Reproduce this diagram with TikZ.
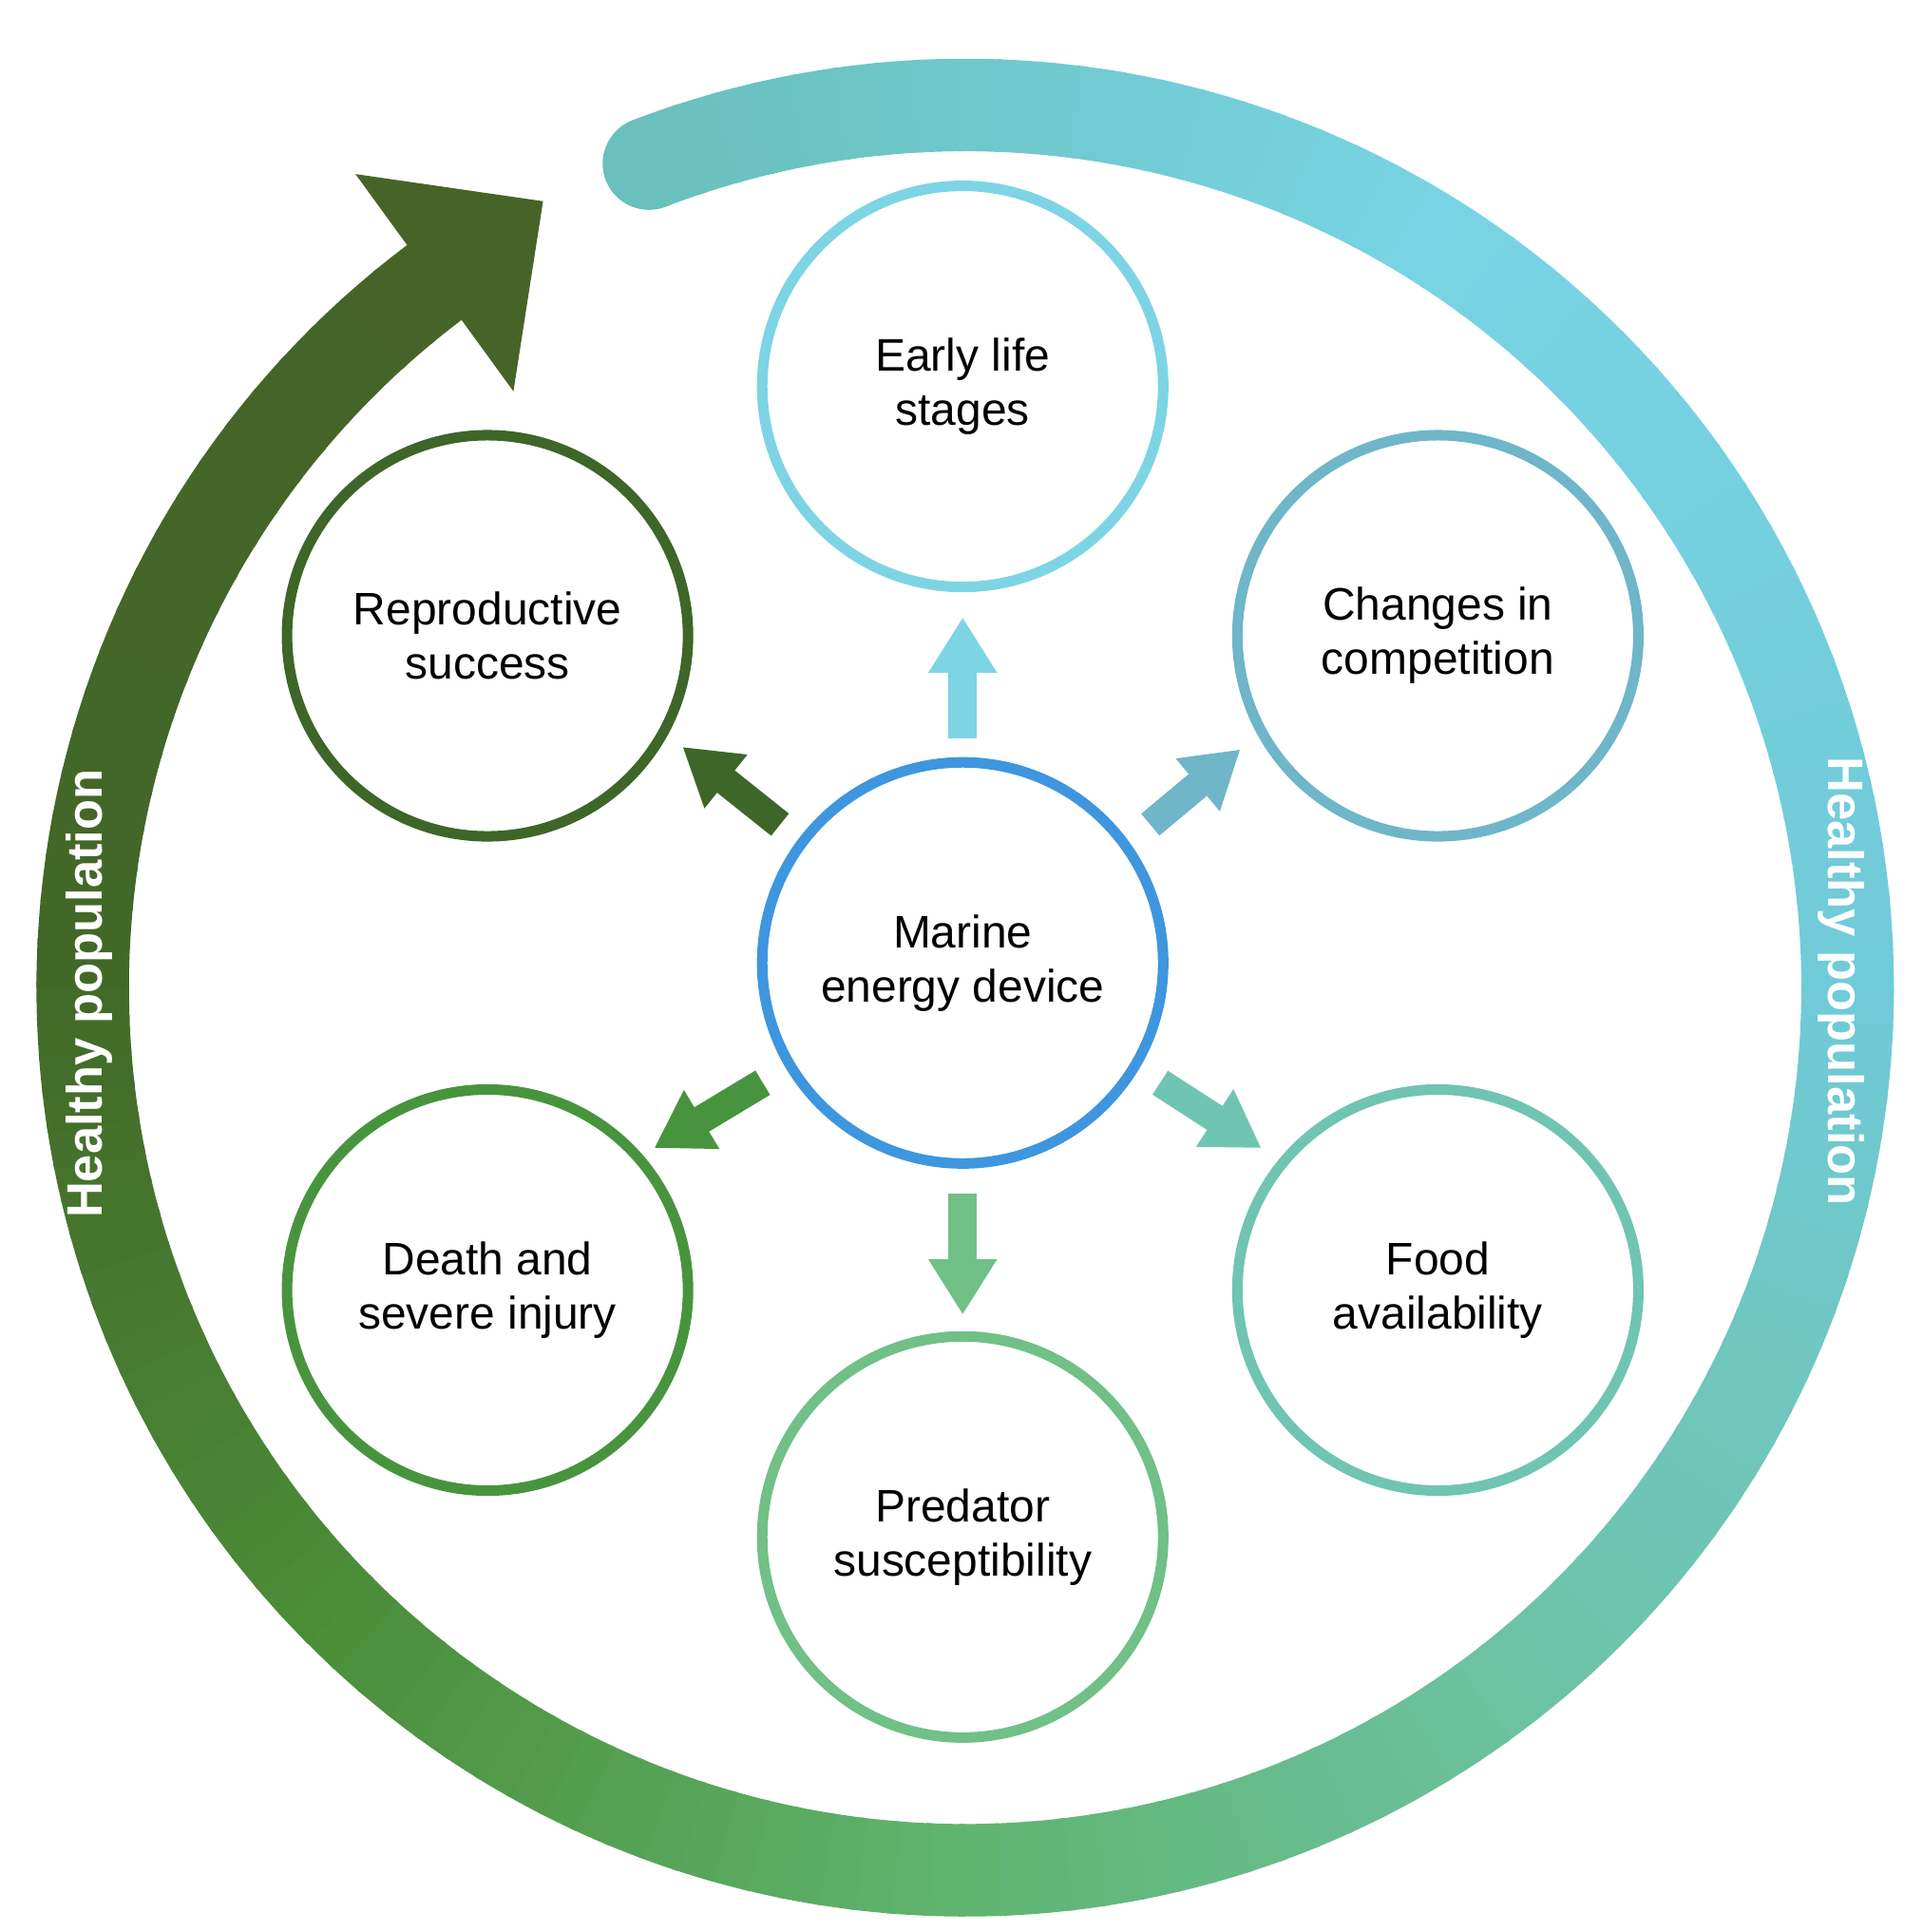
\documentclass[tikz,border=0pt]{standalone}
\usepackage{fontspec}
\setmainfont{Liberation Sans}
\usetikzlibrary{arrows.meta}
\definecolor{cE}{RGB}{125,212,228}
\definecolor{cC}{RGB}{110,182,200}
\definecolor{cF}{RGB}{112,196,178}
\definecolor{cP}{RGB}{112,192,135}
\definecolor{cD}{RGB}{72,148,62}
\definecolor{cR}{RGB}{62,102,40}
\definecolor{cM}{RGB}{62,150,222}
\definecolor{g0}{RGB}{105,192,188}
\definecolor{g1}{RGB}{120,212,228}
\definecolor{g2}{RGB}{112,202,215}
\definecolor{g3}{RGB}{110,196,170}
\definecolor{g4}{RGB}{95,180,110}
\definecolor{g5}{RGB}{75,140,55}
\definecolor{g6}{RGB}{66,104,40}
\definecolor{g7}{RGB}{70,100,40}
\begin{document}
\begin{tikzpicture}[x=0.02cm,y=-0.02cm,
  circ/.style={circle,draw,line width=0.17cm,minimum size=6.5cm,align=center,
    font=\fontsize{21}{25}\selectfont,fill=white},
  barrow/.style={line width=0.46cm,-{Triangle[length=0.9cm,width=1.05cm]}},
  ring/.style={line width=1.5cm},
  hp/.style={text=white,font=\bfseries\fontsize{23}{27}\selectfont}]
\useasboundingbox (0,0) rectangle (1558,1565);
\coordinate (C) at (782,800);
% gradient ring (tikz angles = -visual angles)
\foreach \a/\b/\ca/\cb in {-111/-60/g0/g1,-60/0/g1/g2,0/45/g2/g3,45/90/g3/g4,90/135/g4/g5,135/180/g5/g6,180/233/g6/g7}{
  \foreach \k in {0,...,19}{
    \pgfmathsetmacro\s{\a+(\b-\a)*\k/20}
    \pgfmathsetmacro\e{\a+(\b-\a)*(\k+1)/20+0.4}
    \pgfmathtruncatemacro\p{\k*5}
    \draw[ring,draw=\cb!\p!\ca] (C) ++(\s:715) arc[start angle=\s,end angle=\e,radius=715];
  }
}
\fill[g0] (C) ++(-111:715) circle[radius=37.5];
\fill[g7] (288,141) -- (440,163) -- (416,317) -- cycle;
\node[hp,rotate=90] (hl) at (72,805) {Healthy population};
\node[hp,rotate=-90] (hr) at (1492,795) {Healthy population};
% circles
\node[circ,draw=cM] (m) at (780,780) {Marine\\energy device};
\node[circ,draw=cE] (e) at (780,313) {Early life\\stages};
\node[circ,draw=cC] (c) at (1165,515) {Changes in\\competition};
\node[circ,draw=cF] (f) at (1165,1045) {Food\\availability};
\node[circ,draw=cP] (p) at (780,1245) {Predator\\susceptibility};
\node[circ,draw=cD] (d) at (395,1045) {Death and\\severe injury};
\node[circ,draw=cR] (r) at (395,515) {Reproductive\\success};
% arrows
\coordinate (ea) at (780,598); \coordinate (eb) at (780,500);
\coordinate (ca) at (932,668); \coordinate (cb) at (1005,607);
\coordinate (fa) at (940,877); \coordinate (fb) at (1022,930);
\coordinate (pa) at (780,967); \coordinate (pb) at (780,1065);
\coordinate (da) at (618,877); \coordinate (db) at (530,930);
\coordinate (ra) at (632,668); \coordinate (rb) at (553,605);
\draw[barrow,cE] (ea) -- (eb);
\draw[barrow,cC] (ca) -- (cb);
\draw[barrow,cF] (fa) -- (fb);
\draw[barrow,cP] (pa) -- (pb);
\draw[barrow,cD] (da) -- (db);
\draw[barrow,cR] (ra) -- (rb);
\end{tikzpicture}
\end{document}
